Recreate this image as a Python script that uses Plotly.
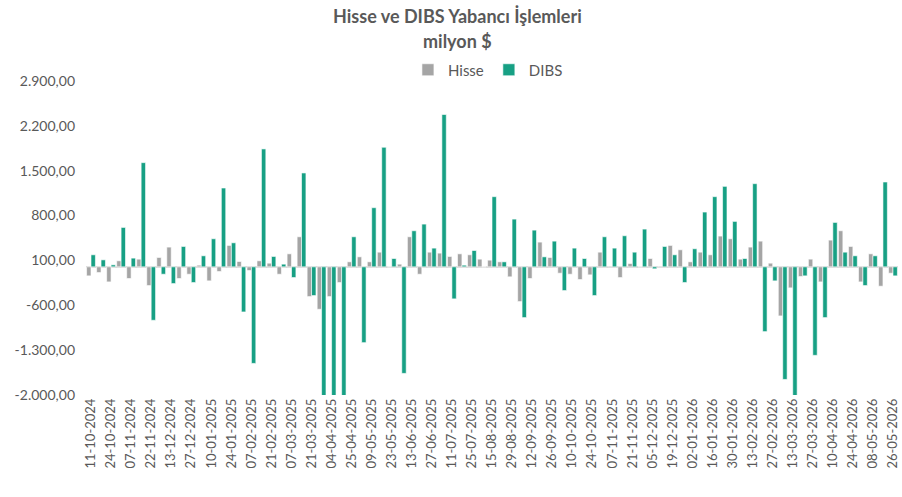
import plotly.graph_objects as go

tick_labels = ["11-10-2024","24-10-2024","07-11-2024","22-11-2024","13-12-2024","27-12-2024",
    "10-01-2025","24-01-2025","07-02-2025","21-02-2025","07-03-2025","21-03-2025","04-04-2025",
    "25-04-2025","09-05-2025","23-05-2025","13-06-2025","27-06-2025","11-07-2025","25-07-2025",
    "15-08-2025","29-08-2025","12-09-2025","26-09-2025","10-10-2025","24-10-2025","07-11-2025",
    "21-11-2025","05-12-2025","19-12-2025","02-01-2026","16-01-2026","30-01-2026","13-02-2026",
    "27-02-2026","13-03-2026","27-03-2026","10-04-2026","24-04-2026","08-05-2026","26-05-2026"]

hisse = [-141, -89, -235, 94, -182, 120, -292, 146, 308, -182,
         -115, 26, -219, -73, 334, 83, -57, 94, 57, -115,
         203, 469, -464, -662, -464, -245, 78, 156, 78, 229,
         0, 42, 469, -115, 229, 214, 162, 203, 188, 120,
         104, 78, -156, -542, -182, 386, 146, -99, -115, -198,
         -125, 229, 10, -167, 52, 0, 130, 10, 334, 266,
         78, 229, 188, 480, 438, 120, 308, 401, 57, -766,
         -328, -151, 120, -235, 417, 563, 318, -235, 203, -302,
         -99]

dibs = [188, 109, 31, 615, 136, 1626, -834, -115, -261, 318,
        -245, 172, 438, 1230, 375, -704, -1507, 1840, 162, 42,
        -167, 1465, -448, -2300, -2150, -2600, 469, -1183, 923, 1866,
        130, -1663, 563, 667, 292, 2377, -500, 26, 255, 0,
        1095, 78, 745, -792, 573, 156, 401, -370, 292, 130,
        -448, 469, 292, 485, 229, 589, -31, 318, 188, -245,
        282, 855, 1095, 1256, 709, 130, 1298, -1011, -219, -1757,
        -2100, -141, -1381, -792, 693, 229, 172, -292, 172, 1324,
        -141]

y_ticks = [2900, 2200, 1500, 800, 100, -600, -1300, -2000]
y_tick_text = ["2.900,00", "2.200,00", "1.500,00", "800,00", "100,00", "-600,00", "-1.300,00", "-2.000,00"]

x = list(range(len(hisse)))
font_fam = "Lato, 'Open Sans', sans-serif"
txt = "#595959"

H, T, B = 497, 81, 102
ph = H - T - B
def py(pix):
    return (H - B - pix) / ph

fig = go.Figure()
fig.add_trace(go.Bar(x=x, y=hisse, name="Hisse", marker=dict(color="#a5a5a5", line=dict(color="white", width=0.6))))
fig.add_trace(go.Bar(x=x, y=dibs, name="DIBS", marker=dict(color="#17a084", line=dict(color="white", width=0.6))))

fig.update_layout(
    width=902, height=H,
    paper_bgcolor="white", plot_bgcolor="white",
    barmode="group", bargap=0.12, bargroupgap=0.0,
    margin=dict(l=86, r=4, t=T, b=B, autoexpand=False),
    font=dict(family=font_fam, color=txt, size=13),
    legend=dict(orientation="h", x=0.495, xanchor="center", y=py(70), yanchor="middle",
                font=dict(size=15, color=txt), traceorder="normal",
                bgcolor="rgba(0,0,0,0)"),
    showlegend=True,
    annotations=[
        dict(text="<b>Hisse ve DIBS Yabancı İşlemleri</b>", xref="paper", yref="paper",
             x=0.457, y=py(16), xanchor="center", yanchor="middle", showarrow=False,
             font=dict(size=18, color=txt, family=font_fam)),
        dict(text="<b>milyon $</b>", xref="paper", yref="paper",
             x=0.457, y=py(41), xanchor="center", yanchor="middle", showarrow=False,
             font=dict(size=18, color=txt, family=font_fam)),
    ],
)
fig.update_yaxes(range=[-2000, 2900], tickvals=y_ticks, ticktext=y_tick_text, automargin=False,
                 showgrid=False, zeroline=True, zerolinecolor="#d9d9d9", zerolinewidth=2,
                 showline=False, tickfont=dict(size=14, color=txt), ticks="", ticklabelstandoff=10)
fig.update_xaxes(range=[-0.5, len(hisse) - 0.5], tickvals=x[::2], ticktext=tick_labels, automargin=False,
                 tickangle=-90, showgrid=False, showline=False, ticks="",
                 tickfont=dict(size=13, color=txt))

fig.write_html("out.html", config={"displayModeBar": False},
               post_script="document.body.style.margin='0';document.body.style.padding='0';")
